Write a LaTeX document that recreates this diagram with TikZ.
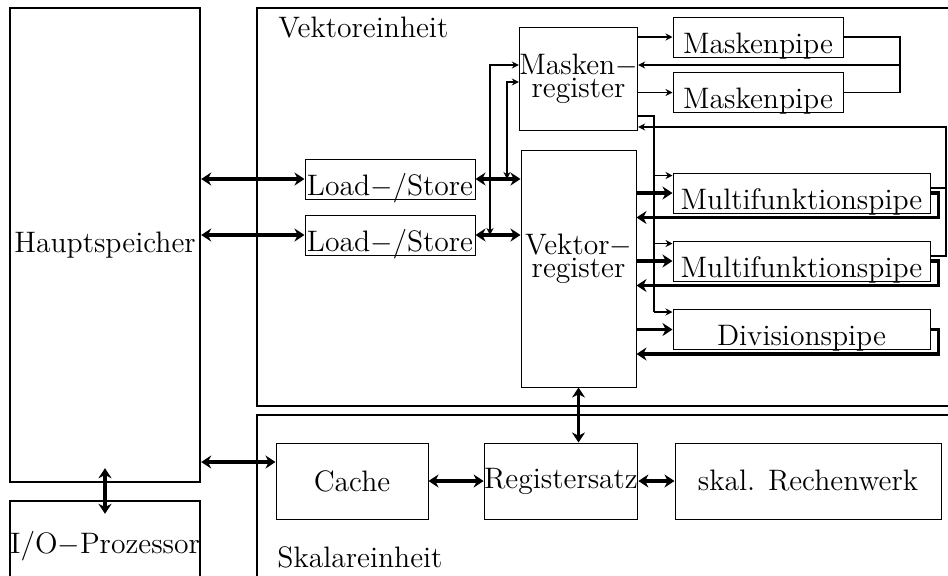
\documentclass[tikz,border=0pt]{standalone}
\usepackage{amsmath}
\usetikzlibrary{arrows.meta}

\tikzset{fat/.tip={Stealth[length=5pt,width=6.5pt]},
         slim/.tip={Stealth[length=3.5pt,width=3.5pt]}}

\begin{document}
\begin{tikzpicture}[x=0.5pt,y=-0.5pt,
  every node/.style={font=\fontsize{14.8}{18}\selectfont},
  unit/.style={draw,line width=1.2pt,inner sep=0pt},
  box/.style={draw,line width=0.5pt,inner sep=0pt},
  pipe/.style={box,text height=18pt,text depth=2pt},
  wire/.style={line width=0.6pt},
  sig/.style={wire,-slim},
  sigboth/.style={wire,slim-slim},
  bus/.style={line width=1.8pt,fat-fat},
  flow/.style={line width=1.8pt,-fat}]
\useasboundingbox (0,0) rectangle (948,575);
\clip (0,0) rectangle (948,575);

% memory and I/O
\node[unit,minimum width=95pt,minimum height=237pt] (haupt) at (105,245) {Hauptspeicher};
\node[unit,minimum width=95pt,minimum height=45pt] (io) at (105,546) {I/O$-$Prozessor};

% the two units
\draw[unit] (257,8) rectangle (1000,406);
\draw[unit] (257,415) rectangle (1000,620);
\node[anchor=base west,inner sep=0pt] (vtitle) at (278,37) {Vektoreinheit};
\node[anchor=base west,inner sep=0pt] (stitle) at (277,567) {Skalareinheit};

% vector unit
\node[pipe,minimum width=85pt] (ls1) at (390,179) {Load$-$/Store};
\node[pipe,minimum width=85pt] (ls2) at (390,235) {Load$-$/Store};
\node[box,minimum width=57.5pt,minimum height=51.5pt,align=center] (mreg) at (578.5,78.5) {Masken$-$\\[-6.5pt]register};
\node[box,minimum width=57.5pt,minimum height=118.5pt] (vreg) at (578.5,268.5) {};
\node[align=center,inner sep=0pt] (vtext) at (578.5,259) {Vektor$-$\\[-6.5pt]register};
\node[pipe,minimum width=85pt] (mp1) at (758,37) {Maskenpipe};
\node[pipe,minimum width=85pt] (mp2) at (758,92.5) {Maskenpipe};
\node[pipe,minimum width=128.5pt] (mf1) at (801.5,193) {Multifunktionspipe};
\node[pipe,minimum width=128.5pt] (mf2) at (801.5,261) {Multifunktionspipe};
\node[pipe,minimum width=128.5pt] (div) at (801.5,329.5) {Divisionspipe};

% scalar unit
\node[box,minimum width=76pt,minimum height=38pt] (cache) at (352,481) {Cache};
\node[box,minimum width=76pt,minimum height=38pt] (regs) at (561,481) {Registersatz};
\node[box,minimum width=133pt,minimum height=38pt] (alu) at (808,481) {skal. Rechenwerk};

\coordinate (cin) at ([yshift=9.5pt]cache.west);
\coordinate (mjoin) at (900,65);
\coordinate (msel) at (654,116);
\coordinate (rjoin) at (946,127);
\coordinate (lA) at (490,65);
\coordinate (lB) at (507,82);

% data paths
\draw[bus] (haupt.east |- ls1.west) -- (ls1.west);
\draw[bus] (haupt.east |- ls2.west) -- (ls2.west);
\draw[bus] (ls1.east) -- (vreg.west |- ls1.east);
\draw[bus] (ls2.east) -- (vreg.west |- ls2.east);
\draw[bus] ([yshift=7.5pt]haupt.south) -- ([yshift=-7pt]io.north);
\draw[bus] (cin -| haupt.east) -- (cin);
\draw[bus] (cache.east) -- (regs.west);
\draw[bus] (regs.east) -- (alu.west);
\draw[bus] (vreg.south) -- (regs.north -| vreg.south);
\foreach \p in {mf1,mf2,div}{
  \coordinate (\p-back) at ([yshift=-2pt]\p.south);
  \coordinate (\p-in) at ([yshift=-1.5pt]\p.north west);
  \draw[flow] (vreg.east |- \p.west) -- (\p.west);
  \draw[flow] (\p.east) -- ++(4pt,0) |- (vreg.east |- \p-back);
}

% mask paths
\draw[sig] (mreg.east |- mp1.west) -- (mp1.west);
\draw[sig] (mreg.east |- mp2.west) -- (mp2.west);
\draw[wire] (mp1.east) -| (mjoin) |- (mp2.east);
\draw[sig] (mjoin) -- (mreg.east |- mjoin);
\draw[wire] (mreg.east |- msel) -- (msel) -- (msel |- div-in);
\foreach \p in {mf1,mf2,div}
  \draw[sig] (msel |- \p-in) -- (\p-in);
\coordinate (mf1-out) at ([yshift=2.5pt]mf1.east);
\coordinate (mf2-out) at ([yshift=2.5pt]mf2.east);
\draw[wire] (mf1-out) -- (mf1-out -| rjoin);
\draw[sig] (mf2-out) -| (rjoin) -- (mreg.east |- rjoin);
\draw[sigboth] (lA |- ls2.east) |- (mreg.west |- lA);
\draw[sigboth] (lB |- ls1.east) |- (mreg.west |- lB);
\end{tikzpicture}
\end{document}
